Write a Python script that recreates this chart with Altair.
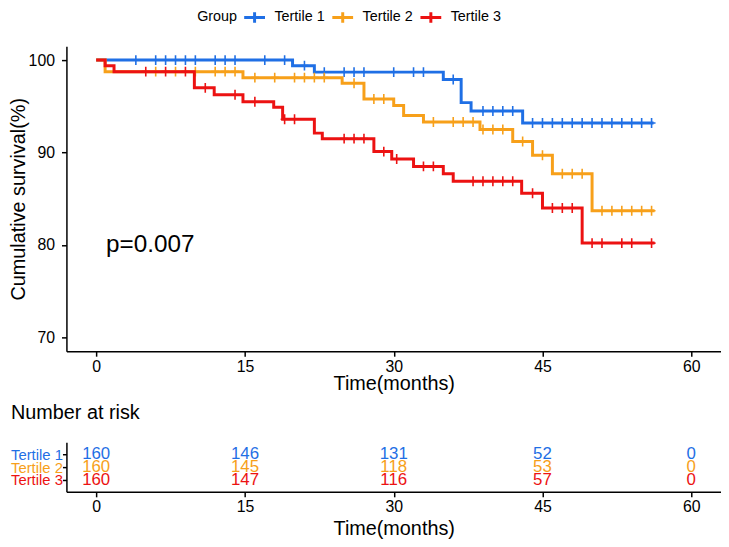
import altair as alt
import pandas as pd

# ---------------- data ----------------
groups = ["Tertile 1", "Tertile 2", "Tertile 3"]
colors = ["#1F6FE5", "#F7A01A", "#EC1212"]

# Kaplan-Meier step change points (time in months, survival in %)
t1_times = [0, 19.8, 22, 35, 36.8, 37.8, 43]
t1_surv = [100, 99.4, 98.7, 97.9, 95.4, 94.5, 93.2]
t1_censor = [4, 6, 7, 8, 9, 10, 12, 13, 14, 17, 19, 21, 23, 25, 26, 27, 30, 32, 33,
             36, 39, 40, 41, 42, 44, 45, 46, 47, 48, 49, 50, 51, 52, 53, 54, 55, 56]
t1_end = 56.2

t2_times = [0, 0.9, 14.8, 24.8, 27, 30, 31, 33, 38.7, 42, 44, 46, 50]
t2_surv = [100, 98.75, 98.1, 97.5, 95.8, 95.1, 94.0, 93.3, 92.5, 91.2, 89.7, 87.7, 83.7]
t2_censor = [6, 8, 10, 12, 13, 14, 16, 18, 20, 21, 22, 23, 26, 28, 29, 34, 36, 37, 38,
             39, 40, 41, 43, 45, 47, 48, 49, 51, 52, 53, 54, 55, 56]
t2_end = 56.3

t3_times = [0, 0.9, 1.8, 9.9, 11.9, 14.8, 17.9, 18.8, 22, 22.8, 28, 29.8, 32, 35, 36, 42.9, 45, 49]
t3_surv = [100, 99.4, 98.75, 97.0, 96.25, 95.5, 94.9, 93.6, 92.1, 91.5, 90.1, 89.3, 88.5,
           87.7, 86.9, 85.6, 84.0, 80.2]
t3_censor = [5, 7, 9, 11, 14, 16, 19, 20, 25, 26, 27, 29, 30.3, 33, 34, 38, 39, 40, 41, 42,
             44, 46, 47, 48, 50, 51, 53, 54, 56]
t3_end = 56.3

# number at risk
risk_times = [0, 15, 30, 45, 60]
risk_t1 = [160, 146, 131, 52, 0]
risk_t2 = [160, 145, 118, 53, 0]
risk_t3 = [160, 147, 116, 57, 0]

pval_text = "p=0.007"
pval_x = 1
pval_y = 80

x_ticks = [0, 15, 30, 45, 60]
y_ticks = [70, 80, 90, 100]

# ---------------- tables ----------------
series = [
    (groups[0], t1_times, t1_surv, t1_censor, t1_end),
    (groups[1], t2_times, t2_surv, t2_censor, t2_end),
    (groups[2], t3_times, t3_surv, t3_censor, t3_end),
]

step_rows, cens_rows = [], []
for g, ts, ss, cs, end in series:
    for t, s in zip(ts, ss):
        step_rows.append({"group": g, "time": t, "surv": s})
    step_rows.append({"group": g, "time": end, "surv": ss[-1]})
    for c in cs:
        val = ss[0]
        for t, s in zip(ts, ss):
            if t <= c:
                val = s
        cens_rows.append({"group": g, "time": c, "surv": val})

steps = pd.DataFrame(step_rows)
cens = pd.DataFrame(cens_rows)

risk_rows = []
for g, vals in zip(groups, [risk_t1, risk_t2, risk_t3]):
    for t, n in zip(risk_times, vals):
        risk_rows.append({"group": g, "time": t, "n": str(n)})
risk = pd.DataFrame(risk_rows)

pval = pd.DataFrame({"time": [pval_x], "surv": [pval_y], "label": [pval_text]})

# ---------------- chart ----------------
FONT = "Liberation Sans, Arial, Helvetica, sans-serif"

x_scale = alt.Scale(domain=[-3, 63], nice=False, zero=False)
y_scale = alt.Scale(domain=[68.5, 101.5], nice=False, zero=False)
color_scale = alt.Scale(domain=groups, range=colors)

legend = alt.Legend(
    title="Group", orient="none", legendX=132, legendY=-36, direction="horizontal",
    titleOrient="left", titleFontSize=14.5, titleFontWeight="normal", titleColor="black",
    titlePadding=5, titleFont=FONT, labelFont=FONT,
    labelFontSize=14.5, labelColor="black", labelOffset=8, columnPadding=6,
    symbolType="M-1,0H1M0,-0.5V0.5", symbolSize=441, symbolStrokeWidth=3,
    symbolFillColor="transparent", clipHeight=14,
)

x_axis_main = alt.Axis(values=x_ticks, title="Time(months)", labelFontSize=16,
                       titleFontSize=20, labelPadding=2, titlePadding=0, tickSize=5)
y_axis_main = alt.Axis(values=y_ticks, title="Cumulative survival(%)", labelFontSize=16,
                       titleFontSize=20, labelPadding=7, titlePadding=0, tickSize=5)

cross_path = "M-0.8,0H0.8M0,-1V1"

layers = []
for g in groups:
    layers.append(
        alt.Chart(steps).transform_filter(alt.datum.group == g)
        .mark_line(interpolate="step-after", strokeWidth=3).encode(
            x=alt.X("time:Q", scale=x_scale, axis=x_axis_main),
            y=alt.Y("surv:Q", scale=y_scale, axis=y_axis_main),
            color=alt.Color("group:N", scale=color_scale, legend=legend),
        )
    )
    layers.append(
        alt.Chart(cens).transform_filter(alt.datum.group == g)
        .mark_point(shape=cross_path, size=100, strokeWidth=1.6, filled=False, opacity=1)
        .encode(
            x=alt.X("time:Q", scale=x_scale),
            y=alt.Y("surv:Q", scale=y_scale),
            color=alt.Color("group:N", scale=color_scale, legend=legend),
        )
    )

ptext = alt.Chart(pval).mark_text(align="left", baseline="middle", fontSize=24.5,
                                  font=FONT, color="black").encode(
    x=alt.X("time:Q", scale=x_scale),
    y=alt.Y("surv:Q", scale=y_scale),
    text="label:N",
)

main = alt.layer(*layers, ptext).properties(width=661, height=308)

label_color = {
    "condition": [
        {"test": "datum.value === 'Tertile 1'", "value": colors[0]},
        {"test": "datum.value === 'Tertile 2'", "value": colors[1]},
    ],
    "value": colors[2],
}

risk_chart = alt.Chart(risk).mark_text(baseline="middle", align="center", fontSize=17,
                                       font=FONT).encode(
    x=alt.X("time:Q", scale=x_scale,
            axis=alt.Axis(values=x_ticks, title="Time(months)", labelFontSize=16,
                          titleFontSize=20, labelPadding=2, titlePadding=4, tickSize=5)),
    y=alt.Y("group:N", scale=alt.Scale(type="point", domain=groups, padding=0.92),
            axis=alt.Axis(title=None, labelFontSize=15, labelColor=label_color,
                          tickSize=4, labelPadding=0)),
    color=alt.Color("group:N", scale=color_scale, legend=None),
    text="n:N",
).properties(
    width=661, height=50,
    title=alt.TitleParams("Number at risk", anchor="start", frame="group", dx=-56,
                          fontSize=20, fontWeight="normal", font=FONT, color="black",
                          offset=19.5),
)

chart = alt.vconcat(main, risk_chart, spacing=92, bounds="flush").resolve_legend(
    color="independent"
).properties(
    padding={"left": 0, "top": 0, "right": 0, "bottom": 0}
).configure_view(stroke=None).configure_axis(
    grid=False, domainColor="black", domainWidth=1.5, tickColor="black", tickWidth=1.5,
    labelColor="black", titleColor="black", labelFont=FONT, titleFont=FONT,
    titleFontWeight="normal",
)

chart.save("out.html", embed_options={"renderer": "svg", "actions": False})
